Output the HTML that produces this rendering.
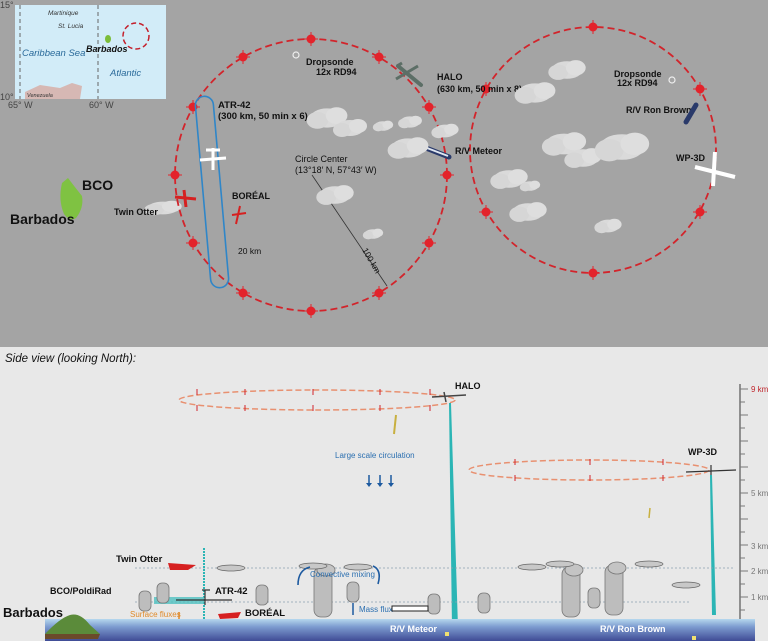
<!DOCTYPE html>
<html><head><meta charset="utf-8"><style>
html,body{margin:0;padding:0;width:768px;height:641px;overflow:hidden;background:#e8e8e8}
svg{display:block}
text{font-family:"Liberation Sans",sans-serif}
.b{font-weight:bold;fill:#111}
</style></head><body>
<svg width="768" height="641" viewBox="0 0 768 641" xmlns="http://www.w3.org/2000/svg">
<defs>
<linearGradient id="sea" x1="0" y1="0" x2="0" y2="1"><stop offset="0" stop-color="#b6d8ee"/><stop offset="0.35" stop-color="#7d9cd0"/><stop offset="1" stop-color="#3f4b95"/></linearGradient>
<g id="cl"><ellipse cx="0" cy="0" rx="14" ry="8" fill="#dadada"/><ellipse cx="-8" cy="2" rx="9" ry="7" fill="#d6d6d6"/><ellipse cx="8" cy="-2" rx="9" ry="7" fill="#dedede"/></g>
<g id="m"><circle r="4.5" fill="#e3232b"/><line x1="-7" y1="0" x2="7" y2="0" stroke="#e3232b" stroke-width="1"/><line x1="0" y1="-7" x2="0" y2="7" stroke="#e3232b" stroke-width="1"/></g>
<g id="sc"><rect x="-6" y="-10" width="12" height="20" rx="5" fill="#bdbdbd" stroke="#777" stroke-width="0.8"/></g>
<g id="tc"><rect x="-9" y="-25" width="18" height="50" rx="7" fill="#bdbdbd" stroke="#777" stroke-width="0.8"/><ellipse cx="3" cy="-22" rx="9" ry="6" fill="#c4c4c4" stroke="#777" stroke-width="0.8"/></g>
<g id="fc"><ellipse cx="0" cy="0" rx="14" ry="3" fill="#c8c8c8" stroke="#666" stroke-width="0.7"/></g>
</defs>
<rect x="0" y="0" width="768" height="347" fill="#a4a4a4"/>
<rect x="15" y="5" width="151" height="94" fill="#d2ecf8"/>
<line x1="20" y1="5" x2="20" y2="99" stroke="#666" stroke-dasharray="4,3"/>
<line x1="98" y1="5" x2="98" y2="99" stroke="#666" stroke-dasharray="4,3"/>
<path d="M25 92 L40 85 L60 88 L72 83 L82 86 L80 99 L25 99Z" fill="#d6b8b4"/>
<circle cx="136" cy="36" r="13" fill="none" stroke="#c41f2b" stroke-width="1.5" stroke-dasharray="5,3"/>
<ellipse cx="108" cy="39" rx="3" ry="4" fill="#7bbd3a"/>
<text x="48" y="15" font-size="6.5" font-style="italic" fill="#333">Martinique</text>
<text x="58" y="28" font-size="6.5" font-style="italic" fill="#333">St. Lucia</text>
<text x="86" y="52" font-size="9" font-style="italic" font-weight="bold" fill="#111">Barbados</text>
<text x="22" y="56" font-size="9.5" font-style="italic" fill="#2a6a9a">Caribbean Sea</text>
<text x="110" y="76" font-size="9.5" font-style="italic" fill="#2a6a9a">Atlantic</text>
<text x="27" y="97" font-size="5.5" font-style="italic" fill="#333">Venezuela</text>
<text x="0" y="8" font-size="9" fill="#444">15°</text>
<text x="0" y="100" font-size="9" fill="#444">10°</text>
<text x="8" y="108" font-size="9" fill="#444">65° W</text>
<text x="89" y="108" font-size="9" fill="#444">60° W</text>
<path d="M62 183 Q58 200 64 214 Q70 222 76 218 Q84 208 82 196 Q74 186 68 178Z" fill="#7fc242"/>
<text x="82" y="190" font-size="14" class="b">BCO</text>
<text x="10" y="224" font-size="14" class="b">Barbados</text>
<g transform="translate(163,208) scale(1.1,0.8)"><use href="#cl"/></g>
<text x="114" y="215" font-size="9" class="b">Twin Otter</text>
<circle cx="311" cy="175" r="136" fill="none" stroke="#d2242b" stroke-width="1.8" stroke-dasharray="7,4"/>
<circle cx="593" cy="150" r="123" fill="none" stroke="#d2242b" stroke-width="1.8" stroke-dasharray="7,4"/>
<g>
<use href="#m" x="311" y="39"/><use href="#m" x="379" y="57"/><use href="#m" x="429" y="107"/><use href="#m" x="447" y="175"/><use href="#m" x="429" y="243"/><use href="#m" x="379" y="293"/><use href="#m" x="311" y="311"/><use href="#m" x="243" y="293"/><use href="#m" x="193" y="243"/><use href="#m" x="175" y="175"/><use href="#m" x="193" y="107"/><use href="#m" x="243" y="57"/>
<use href="#m" x="593" y="27"/><use href="#m" x="700" y="89"/><use href="#m" x="700" y="212"/><use href="#m" x="593" y="273"/><use href="#m" x="486" y="212"/><use href="#m" x="486" y="89"/>
</g>
<rect x="203" y="96" width="18" height="192" rx="9" fill="none" stroke="#2f86c8" stroke-width="1.6" transform="rotate(-5 212 192)"/>
<path d="M200 160 L226 158 M213 148 L213 170 M206 150 L220 150" stroke="#fff" stroke-width="3"/>
<path d="M175 197 L196 199 M184 190 L186 207" stroke="#d62020" stroke-width="3"/>
<path d="M240 206 L236 224 M232 215 L246 213" stroke="#d62020" stroke-width="2"/>
<text x="218" y="108" font-size="9.5" class="b">ATR-42</text>
<text x="218" y="119" font-size="9.5" class="b">(300 km, 50 min x 6)</text>
<text x="232" y="199" font-size="9" class="b">BORÉAL</text>
<text x="238" y="254" font-size="8.5" fill="#111">20 km</text>
<circle cx="296" cy="55" r="3" fill="none" stroke="#eee" stroke-width="1.2"/>
<text x="306" y="65" font-size="9" class="b">Dropsonde</text>
<text x="316" y="75" font-size="9" class="b">12x RD94</text>
<path d="M398 66 L421 85" stroke="#5c6e66" stroke-width="4" stroke-linecap="round"/>
<path d="M396 79 L418 66 M397 66 L402 63" stroke="#5c6e66" stroke-width="3"/>
<text x="437" y="80" font-size="9" class="b">HALO</text>
<text x="437" y="92" font-size="9" class="b">(630 km, 50 min x 8)</text>
<text x="455" y="154" font-size="9" class="b">R/V Meteor</text>
<path d="M426 148 L449 157" stroke="#2a3a6a" stroke-width="5" stroke-linecap="round"/><path d="M427 148 L448 156" stroke="#dfe6f0" stroke-width="2"/>
<text x="295" y="162" font-size="9" fill="#111">Circle Center</text>
<text x="295" y="173" font-size="9" fill="#111">(13°18′ N, 57°43′ W)</text>
<line x1="312" y1="175" x2="387" y2="286" stroke="#333" stroke-width="0.8"/>
<text x="362" y="250" font-size="8.5" fill="#111" transform="rotate(60 362 250)">100 km</text>
<text x="614" y="77" font-size="9" class="b">Dropsonde</text>
<text x="617" y="86" font-size="9" class="b">12x RD94</text>
<circle cx="672" cy="80" r="3" fill="none" stroke="#eee" stroke-width="1.2"/>
<text x="626" y="113" font-size="9" class="b">R/V Ron Brown</text>
<path d="M696 105 L686 122" stroke="#2a3a6a" stroke-width="5" stroke-linecap="round"/>
<text x="676" y="161" font-size="9" class="b">WP-3D</text>
<path d="M695 167 L735 177 M715 152 L713 186" stroke="#fff" stroke-width="4"/>
<g transform="translate(327,118) scale(1.2)"><use href="#cl"/></g>
<g transform="translate(350,128) scale(1)"><use href="#cl"/></g>
<g transform="translate(383,126) scale(0.6)"><use href="#cl"/></g>
<g transform="translate(410,122) scale(0.7)"><use href="#cl"/></g>
<g transform="translate(445,131) scale(0.8)"><use href="#cl"/></g>
<g transform="translate(408,148) scale(1.2)"><use href="#cl"/></g>
<g transform="translate(335,195) scale(1.1)"><use href="#cl"/></g>
<g transform="translate(373,234) scale(0.6)"><use href="#cl"/></g>
<g transform="translate(567,70) scale(1.1)"><use href="#cl"/></g>
<g transform="translate(535,93) scale(1.2)"><use href="#cl"/></g>
<g transform="translate(564,144) scale(1.3)"><use href="#cl"/></g>
<g transform="translate(583,158) scale(1.1)"><use href="#cl"/></g>
<g transform="translate(622,147) scale(1.6)"><use href="#cl"/></g>
<g transform="translate(509,179) scale(1.1)"><use href="#cl"/></g>
<g transform="translate(530,186) scale(0.6)"><use href="#cl"/></g>
<g transform="translate(528,212) scale(1.1)"><use href="#cl"/></g>
<g transform="translate(608,226) scale(0.8)"><use href="#cl"/></g>
<rect x="0" y="347" width="768" height="294" fill="#e8e8e8"/>
<text x="5" y="362" font-size="11.5" font-style="italic" fill="#111">Side view (looking North):</text>
<ellipse cx="317" cy="400" rx="138" ry="10" fill="none" stroke="#e89070" stroke-width="1.5" stroke-dasharray="6,3"/>
<ellipse cx="589" cy="470" rx="120" ry="10" fill="none" stroke="#e89070" stroke-width="1.5" stroke-dasharray="6,3"/>
<g stroke="#d2242b" stroke-width="1">
<path d="M197 395v-6M197 405v6M245 395v-6M245 405v6M313 395v-6M313 405v6M380 395v-6M380 405v6M430 395v-6M430 405v6"/>
<path d="M515 465v-6M515 475v6M590 465v-6M590 475v6M663 465v-6M663 475v6"/>
</g>
<text x="455" y="389" font-size="9" class="b">HALO</text>
<path d="M432 397 L466 395 M444 392 L446 402" stroke="#444" stroke-width="1.5"/>
<polygon points="449,403 451,403 458,628 452,628" fill="#2bb5b5"/>
<text x="688" y="455" font-size="9" class="b">WP-3D</text>
<path d="M686 472 L736 470 M711 465 L711 478" stroke="#333" stroke-width="1.2"/>
<polygon points="710,475 712,475 716,615 712,615" fill="#2bb5b5"/>
<text x="335" y="458" font-size="8" fill="#2b6fb0">Large scale circulation</text>
<path d="M369 475v10M380 475v10M391 475v10" stroke="#1d5aa0" stroke-width="1.5"/>
<path d="M366 483l3 4 3-4M377 483l3 4 3-4M388 483l3 4 3-4" fill="#1d5aa0"/>
<line x1="396" y1="415" x2="394" y2="434" stroke="#c8b040" stroke-width="2"/>
<line x1="650" y1="508" x2="649" y2="518" stroke="#c8b040" stroke-width="1.5"/>
<line x1="740" y1="384" x2="740" y2="625" stroke="#555" stroke-width="1.2"/>
<g stroke="#777" stroke-width="1">
<path d="M740 389h8M740 402h5M740 415h8M740 428h5M740 441h8M740 454h5M740 467h8M740 480h5M740 493h8M740 506h5M740 519h8M740 532h5M740 545h8M740 558h5M740 571h8M740 584h5M740 597h8M740 610h5"/>
</g>
<text x="751" y="392" font-size="8" fill="#c0262d">9 km</text>
<text x="751" y="496" font-size="8" fill="#777">5 km</text>
<text x="751" y="549" font-size="8" fill="#777">3 km</text>
<text x="751" y="574" font-size="8" fill="#777">2 km</text>
<text x="751" y="600" font-size="8" fill="#777">1 km</text>
<line x1="135" y1="568" x2="735" y2="568" stroke="#8aa0b0" stroke-width="0.8" stroke-dasharray="2,2"/>
<line x1="135" y1="602" x2="690" y2="602" stroke="#8aa0b0" stroke-width="0.8" stroke-dasharray="2,2"/>
<line x1="204" y1="548" x2="204" y2="632" stroke="#2bb5b5" stroke-width="2" stroke-dasharray="2,1"/>
<rect x="154" y="597" width="50" height="7" fill="#4fc0c0" opacity="0.8"/>
<use href="#sc" x="145" y="601"/><use href="#sc" x="163" y="593"/><use href="#sc" x="262" y="595"/>
<use href="#tc" x="323" y="592"/><use href="#sc" x="353" y="592"/><use href="#tc" x="571" y="592"/><use href="#sc" x="594" y="598"/><use href="#tc" x="614" y="590"/>
<use href="#sc" x="434" y="604"/><use href="#sc" x="484" y="603"/>
<use href="#fc" x="231" y="568"/><use href="#fc" x="313" y="566"/><use href="#fc" x="358" y="567"/><use href="#fc" x="532" y="567"/><use href="#fc" x="560" y="564"/><use href="#fc" x="649" y="564"/><use href="#fc" x="686" y="585"/>
<text x="116" y="562" font-size="9.5" class="b">Twin Otter</text>
<path d="M168 563 L196 565 L188 570 L170 570Z" fill="#d62020"/>
<text x="50" y="594" font-size="9" class="b">BCO/PoldiRad</text>
<text x="215" y="594" font-size="9.5" class="b">ATR-42</text>
<path d="M176 600 L232 600 M202 590 L210 590 M205 590 L205 605" stroke="#333" stroke-width="1.2"/>
<text x="245" y="616" font-size="9.5" class="b">BORÉAL</text>
<path d="M218 614 L241 612 L238 618 L220 619Z" fill="#d62020"/>
<text x="310" y="577" font-size="8" fill="#2b6fb0">Convective mixing</text>
<path d="M298 585 Q298 570 310 567" fill="none" stroke="#1d5aa0" stroke-width="1.6"/>
<path d="M373 566 Q382 570 378 584" fill="none" stroke="#1d5aa0" stroke-width="1.6"/>
<text x="359" y="612" font-size="8" fill="#2b6fb0">Mass flux</text>
<path d="M353 615v-12" stroke="#1d5aa0" stroke-width="1.5"/>
<path d="M392 606 L428 606 L428 611 L392 611Z" fill="#fff" stroke="#222"/>
<text x="130" y="617" font-size="8" fill="#e08a2a">Surface fluxes</text>
<path d="M179 612v22" stroke="#e08a2a" stroke-width="1.5"/>
<rect x="45" y="619" width="710" height="22" fill="url(#sea)"/>
<path d="M45 634 Q60 618 70 615 Q80 612 90 625 L100 634Z" fill="#5b8b3a"/>
<path d="M45 634 L100 634 L98 639 L45 639Z" fill="#6b4a2a"/>
<text x="3" y="617" font-size="13" class="b">Barbados</text>
<text x="390" y="632" font-size="9" fill="#fff" font-weight="bold">R/V Meteor</text>
<text x="600" y="632" font-size="9" fill="#fff" font-weight="bold">R/V Ron Brown</text>
<rect x="445" y="632" width="4" height="4" fill="#f0e070"/>
<rect x="692" y="636" width="4" height="4" fill="#f0e070"/>
</svg>
</body></html>
